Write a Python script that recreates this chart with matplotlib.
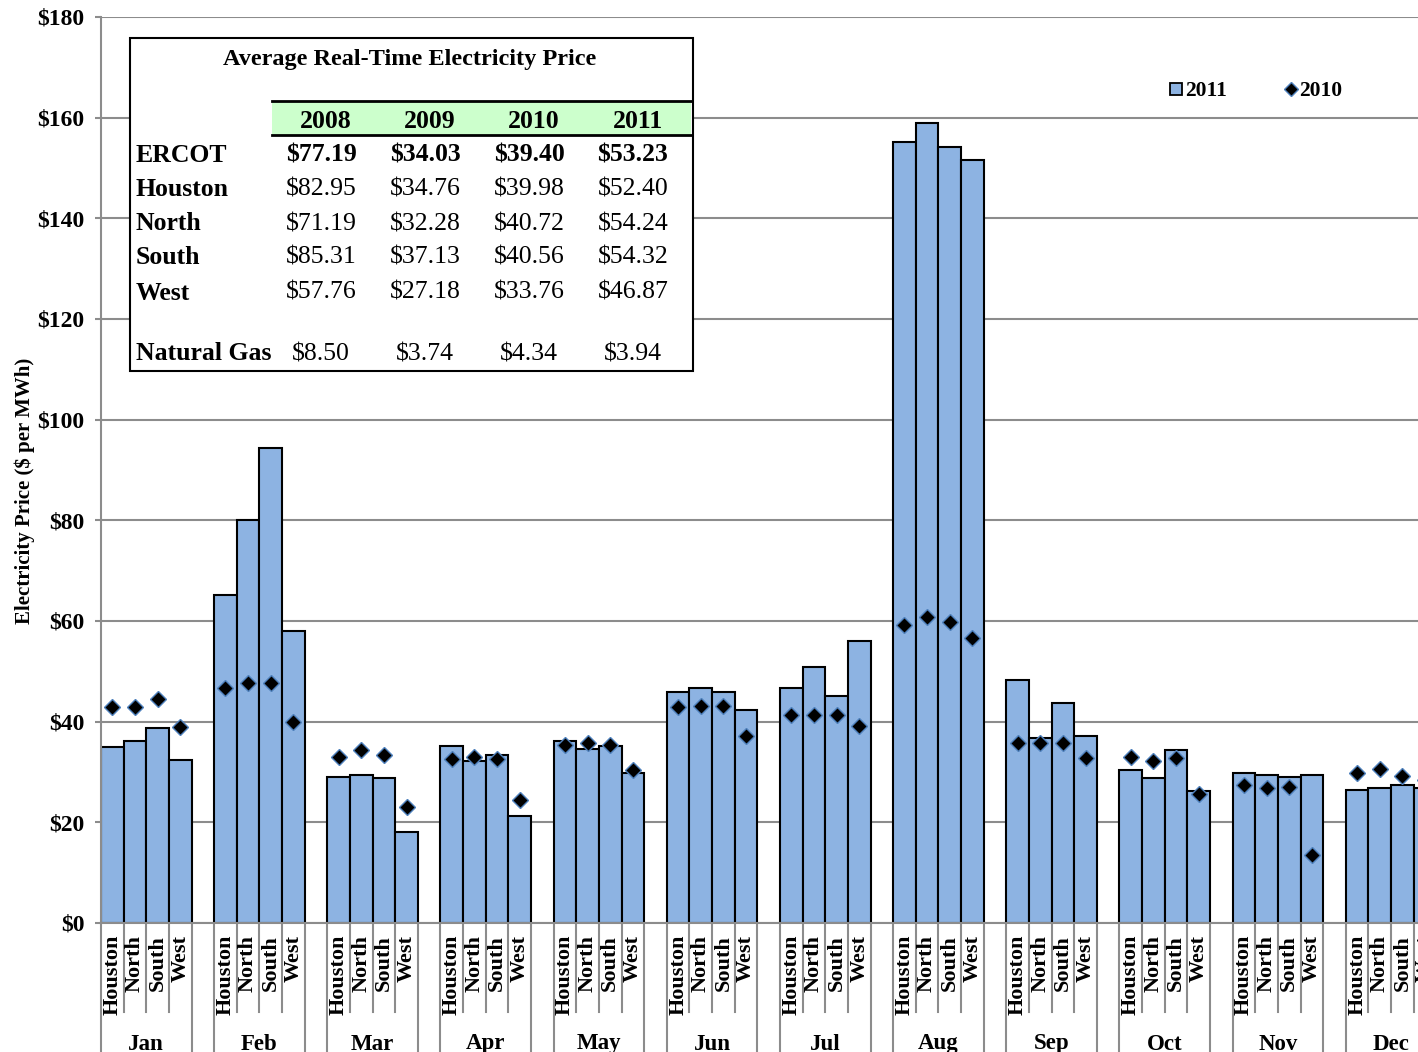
import matplotlib
matplotlib.use("Agg")
import matplotlib.pyplot as plt
from matplotlib.patches import Rectangle
from matplotlib.lines import Line2D
import matplotlib.transforms as mtrans

plt.rcParams['font.family'] = ['Liberation Serif', 'DejaVu Serif']

# ---------------- data ----------------
months = ['Jan', 'Feb', 'Mar', 'Apr', 'May', 'Jun', 'Jul', 'Aug', 'Sep', 'Oct', 'Nov', 'Dec']
zones = ['Houston', 'North', 'South', 'West']

houston_2011 = [34.9, 65.2, 29.1, 35.2, 36.2, 45.9, 46.6, 155.1, 48.3, 30.4, 29.8, 26.5]
north_2011 = [36.2, 80.1, 29.4, 32.1, 34.6, 46.6, 50.9, 158.9, 36.8, 28.8, 29.4, 26.8]
south_2011 = [38.8, 94.3, 28.8, 33.3, 35.2, 45.9, 45.1, 154.1, 43.7, 34.3, 29.1, 27.5]
west_2011 = [32.3, 58.0, 18.1, 21.3, 29.8, 42.3, 56.1, 151.5, 37.2, 26.2, 29.4, 26.8]

houston_2010 = [42.9, 46.7, 32.9, 32.6, 35.3, 43.0, 41.4, 59.2, 35.7, 32.9, 27.4, 29.8]
north_2010 = [42.9, 47.7, 34.3, 33.0, 35.7, 43.1, 41.3, 60.7, 35.7, 32.2, 26.9, 30.6]
south_2010 = [44.5, 47.7, 33.4, 32.6, 35.4, 43.1, 41.4, 59.9, 35.7, 32.7, 27.0, 29.2]
west_2010 = [39.0, 39.9, 23.0, 24.4, 30.3, 37.2, 39.1, 56.7, 32.7, 25.7, 13.5, 28.5]

yticks = [0, 20, 40, 60, 80, 100, 120, 140, 160, 180]
ytick_labels = ['$0', '$20', '$40', '$60', '$80', '$100', '$120', '$140', '$160', '$180']

table_title = 'Average Real-Time Electricity Price'
table_years = ['2008', '2009', '2010', '2011']
table_rows = ['ERCOT', 'Houston', 'North', 'South', 'West']
ercot_avg = [77.19, 34.03, 39.40, 53.23]
houston_avg = [82.95, 34.76, 39.98, 52.40]
north_avg = [71.19, 32.28, 40.72, 54.24]
south_avg = [85.31, 37.13, 40.56, 54.32]
west_avg = [57.76, 27.18, 33.76, 46.87]
gas_label = 'Natural Gas'
natural_gas = [8.50, 3.74, 4.34, 3.94]

series_2011 = [houston_2011, north_2011, south_2011, west_2011]
series_2010 = [houston_2010, north_2010, south_2010, west_2010]
table_values = [ercot_avg, houston_avg, north_avg, south_avg, west_avg]

# ---------------- figure ----------------
W, H = 1418, 1052
fig = plt.figure(figsize=(W / 100, H / 100), dpi=100)
DY = 2  # small vertical correction for centred text


def fx(px):
    return px / W


def fy(py):
    return 1 - (py + DY) / H


def fyr(py):
    return 1 - py / H


ax_left, ax_right, ax_top, ax_bottom = 101, 1459, 17, 923
ax = fig.add_axes([fx(ax_left), fyr(ax_bottom), (ax_right - ax_left) / W, (ax_bottom - ax_top) / H])

BAR_FC = '#8DB3E2'
GRID_C = '#8C8C8C'
SLOTS = 5

for zi, zone in enumerate(zones):
    xs = [m * SLOTS + zi + 0.5 for m in range(len(months))]
    ax.bar(xs, series_2011[zi], width=1.0, color=BAR_FC, edgecolor='black',
           linewidth=1.5, zorder=2)
for zi, zone in enumerate(zones):
    xs = [m * SLOTS + zi + 0.5 for m in range(len(months))]
    ax.plot(xs, series_2010[zi], linestyle='none', marker='D', markersize=8.5,
            markerfacecolor='black', markeredgecolor='#4F81BD', markeredgewidth=1.0,
            zorder=3, clip_on=True)

ax.set_xlim(0, len(months) * SLOTS)
ax.set_ylim(0, 180)
ax.set_yticks(yticks)
ax.set_yticklabels(ytick_labels, fontsize=17, fontweight='bold')
ax.tick_params(axis='y', length=4.3, width=1.5, color=GRID_C, pad=7.5)
ax.set_xticks([])
ax.grid(axis='y', color=GRID_C, linewidth=1.5)
ax.set_axisbelow(True)
for s in ['top', 'right']:
    ax.spines[s].set_visible(False)
for s in ['left', 'bottom']:
    ax.spines[s].set_color(GRID_C)
    ax.spines[s].set_linewidth(1.5)

# category axis (two levels)
trans = mtrans.blended_transform_factory(ax.transData, ax.transAxes)
ax_h = ax_bottom - ax_top
zone_row_end = -(1012 - ax_bottom) / ax_h
for m, mon in enumerate(months):
    base = m * SLOTS
    for k in range(5):
        y1 = -0.2 if k in (0, 4) else zone_row_end
        if m == 0 and k == 0:
            continue
        ax.plot([base + k, base + k], [0, y1], color=GRID_C, linewidth=1.5,
                transform=trans, clip_on=False, zorder=1)
    for zi, zone in enumerate(zones):
        ax.text(base + zi + 0.5, -(935 - ax_bottom) / ax_h, zone, transform=trans,
                rotation=90, ha='center', va='top', fontsize=16, fontweight='bold')
    ax.text(base + 2, -(1044 - ax_bottom) / ax_h, mon, transform=trans,
            ha='center', va='center', fontsize=16.5, fontweight='bold')
ax.spines['left'].set_bounds(0, 180)
ax.plot([0, 0], [0, -0.2], color=GRID_C, linewidth=1.5, transform=trans, clip_on=False)

fig.text(fx(25), fyr(491), 'Electricity Price ($ per MWh)', rotation=90, ha='center',
         va='center', fontsize=15, fontweight='bold')

# ---------------- legend ----------------
fig.add_artist(Line2D([fx(1176)], [fyr(89)], marker='s', markersize=9, markerfacecolor=BAR_FC,
                      markeredgecolor='black', markeredgewidth=1.3, linestyle='none',
                      transform=fig.transFigure))
fig.text(fx(1185), fy(89), '2011', ha='left', va='center', fontsize=15.5, fontweight='bold')
fig.add_artist(Line2D([fx(1291)], [fyr(89)], marker='D', markersize=7, markerfacecolor='black',
                      markeredgecolor='#4F81BD', markeredgewidth=1.0, linestyle='none',
                      transform=fig.transFigure))
fig.text(fx(1299), fy(89), '2010', ha='left', va='center', fontsize=15.5, fontweight='bold')

# ---------------- inset table ----------------
fig.add_artist(Rectangle((fx(130), fyr(371)), fx(693) - fx(130), fyr(38) - fyr(371),
                         transform=fig.transFigure, facecolor='white', edgecolor='black',
                         linewidth=1.5, zorder=5))
fig.add_artist(Rectangle((fx(272), fyr(135)), fx(691) - fx(272), fyr(101) - fyr(135),
                         transform=fig.transFigure, facecolor='#CCFFCC', edgecolor='none',
                         zorder=6))
for yy in (101, 135):
    fig.add_artist(Line2D([fx(272), fx(691)], [fyr(yy), fyr(yy)], color='black', linewidth=2,
                          transform=fig.transFigure, zorder=7))

TFS = 18.5
fig.text(fx(410), fy(58), table_title, ha='center', va='center', fontsize=17.5,
         fontweight='bold', zorder=8)
head_x = [326, 430, 534, 638]
val_x = [321, 425, 529, 633]
for i, yr in enumerate(table_years):
    fig.text(fx(head_x[i]), fy(119), yr, ha='center', va='center', fontsize=TFS,
             fontweight='bold', zorder=8)
row_y = [153, 188, 222, 256, 291]
for r, name in enumerate(table_rows):
    fig.text(fx(136), fy(row_y[r]), name, ha='left', va='center', fontsize=TFS,
             fontweight='bold', zorder=8)
    for i, v in enumerate(table_values[r]):
        fig.text(fx(val_x[i]), fy(row_y[r]), f'${v:.2f}', ha='center', va='center',
                 fontsize=TFS, fontweight='bold' if r == 0 else 'normal', zorder=8)
fig.text(fx(136), fy(352), gas_label, ha='left', va='center', fontsize=TFS,
         fontweight='bold', zorder=8)
for i, v in enumerate(natural_gas):
    fig.text(fx(val_x[i]), fy(352), f'${v:.2f}', ha='center', va='center',
             fontsize=TFS, zorder=8)

fig.savefig('out.png', dpi=100)
